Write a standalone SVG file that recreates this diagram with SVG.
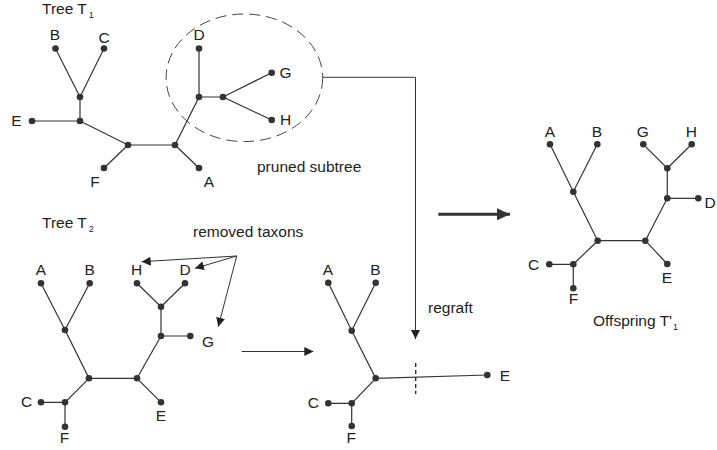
<svg xmlns="http://www.w3.org/2000/svg" width="717" height="450" viewBox="0 0 717 450">
<style>
text{font-family:"Liberation Sans",Arial,sans-serif;font-size:15.5px;fill:#222}
.lbl{text-anchor:middle}
.e{stroke:#333;stroke-width:1.2;fill:none}
.d{fill:#333}
.c{stroke:#333;stroke-width:1;fill:none}
.sub{font-size:9px}
</style>
<defs>
<marker id="ah" viewBox="0 0 10 10" refX="10" refY="5" markerWidth="9" markerHeight="9" markerUnits="userSpaceOnUse" orient="auto"><path d="M0,0 L10,5 L0,10 z" fill="#222"/></marker>
<marker id="big" viewBox="0 0 10 10" refX="10" refY="5" markerWidth="13" markerHeight="12" markerUnits="userSpaceOnUse" orient="auto" preserveAspectRatio="none"><path d="M0,0 L10,5 L0,10 z" fill="#333"/></marker>
</defs>
<rect width="717" height="450" fill="#fff"/>

<!-- titles and annotations -->
<text x="42" y="14">Tree T<tspan class="sub" dx="2" dy="4">1</tspan></text>
<text x="42" y="228">Tree T<tspan class="sub" dx="2" dy="4">2</tspan></text>
<text x="257" y="172">pruned subtree</text>
<text x="193" y="237">removed taxons</text>
<text x="428" y="313">regraft</text>
<text x="593" y="326">Offspring T'<tspan class="sub" dx="1" dy="4">1</tspan></text>

<g id="connectors">
<!-- Tree T1 edges -->
<path class="e" d="M55.5,48.5 L80,97 L104,48.5 M80,97 L80,121 L32,121 M80,121 L128,145 L175,145 M128,145 L104,168 M175,145 L199,168 M175,145 L199,97 L199,48.5 M199,97 L223,97 L271.7,72.7 M223,97 L271.7,120"/>
<!-- Tree T2 edges -->
<path class="e" d="M41,283.3 L65,330 L89.7,283.3 M65,330 L89,378.3 L137,378.3 M89,378.3 L65,402.3 L41,402.3 M65,402.3 L65,426.7 M137,378.3 L161,402.3 M137,378.3 L161,336 L190.3,336 M161,336 L161,306.7 L137,283.3 M161,306.7 L185,283.3"/>
<!-- middle tree edges -->
<path class="e" d="M328.3,282.7 L351.7,330.7 L375.7,282.7 M351.7,330.7 L375.7,378.3 L487.3,375 M375.7,378.3 L351.7,403.3 L328.3,403.3 M351.7,403.3 L351.7,426"/>
<path d="M415.7,363 L415.7,394" stroke="#222" stroke-width="1.3" stroke-dasharray="4,3"/>
<!-- offspring edges -->
<path class="e" d="M550,144.3 L573.3,191.7 L597.3,144.3 M573.3,191.7 L597.7,240.7 L645.3,240.7 M597.7,240.7 L573.3,264.3 L549.3,264.3 M573.3,264.3 L573.3,288.3 M645.3,240.7 L667.3,264 M645.3,240.7 L667.3,198.3 L698.3,198.3 M667.3,198.3 L667.3,168.3 L643.3,144.3 M667.3,168.3 L691.7,144.3"/>
<!-- pruned subtree ellipse and regraft connector -->
<ellipse cx="244.4" cy="77.8" rx="78.3" ry="63.8" fill="none" stroke="#444" stroke-width="1" stroke-dasharray="11,6"/>
<path class="c" d="M322.7,77.3 L415.5,77.3 L415.5,339" marker-end="url(#ah)"/>
<!-- removed taxons arrows -->
<path class="c" d="M236.7,256 L141.7,261.7" marker-end="url(#ah)"/>
<path class="c" d="M236.7,256 L195,268.3" marker-end="url(#ah)"/>
<path class="c" d="M236.7,256 L218.3,326.7" marker-end="url(#ah)"/>
<!-- T2 to middle arrow -->
<path class="c" d="M241.7,351.5 L313.3,351.5" marker-end="url(#ah)"/>
<!-- big arrow -->
<path d="M438.3,214.3 L510,214.3" stroke="#333" stroke-width="3" marker-end="url(#big)"/>
</g>

<!-- Tree T1 nodes -->
<g id="t1-B"><circle class="d" cx="55.5" cy="48.5" r="3.3"/><text class="lbl" x="55" y="40">B</text></g>
<g id="t1-C"><circle class="d" cx="104" cy="48.5" r="3.3"/><text class="lbl" x="104" y="43">C</text></g>
<g id="t1-BC"><circle class="d" cx="80" cy="97" r="3.3"/></g>
<g id="t1-Ej"><circle class="d" cx="80" cy="121" r="3.3"/></g>
<g id="t1-E"><circle class="d" cx="32" cy="121" r="3.3"/><text class="lbl" x="16.5" y="126">E</text></g>
<g id="t1-Fj"><circle class="d" cx="128" cy="145" r="3.3"/></g>
<g id="t1-Aj"><circle class="d" cx="175" cy="145" r="3.3"/></g>
<g id="t1-F"><circle class="d" cx="104" cy="168" r="3.3"/><text class="lbl" x="95" y="187">F</text></g>
<g id="t1-A"><circle class="d" cx="199" cy="168" r="3.3"/><text class="lbl" x="209" y="187">A</text></g>
<g id="t1-Dj"><circle class="d" cx="199" cy="97" r="3.3"/></g>
<g id="t1-D"><circle class="d" cx="199" cy="48.5" r="3.3"/><text class="lbl" x="199" y="40">D</text></g>
<g id="t1-GH"><circle class="d" cx="223" cy="97" r="3.3"/></g>
<g id="t1-G"><circle class="d" cx="271.7" cy="72.7" r="3.3"/><text class="lbl" x="285.5" y="78">G</text></g>
<g id="t1-H"><circle class="d" cx="271.7" cy="120" r="3.3"/><text class="lbl" x="285.5" y="125">H</text></g>

<!-- Tree T2 nodes -->
<g id="t2-A"><circle class="d" cx="41" cy="283.3" r="3.3"/><text class="lbl" x="41" y="275">A</text></g>
<g id="t2-B"><circle class="d" cx="89.7" cy="283.3" r="3.3"/><text class="lbl" x="89.7" y="275">B</text></g>
<g id="t2-AB"><circle class="d" cx="65" cy="330" r="3.3"/></g>
<g id="t2-L"><circle class="d" cx="89" cy="378.3" r="3.3"/></g>
<g id="t2-R"><circle class="d" cx="137" cy="378.3" r="3.3"/></g>
<g id="t2-CF"><circle class="d" cx="65" cy="402.3" r="3.3"/></g>
<g id="t2-C"><circle class="d" cx="41" cy="402.3" r="3.3"/><text class="lbl" x="26.7" y="407">C</text></g>
<g id="t2-F"><circle class="d" cx="65" cy="426.7" r="3.3"/><text class="lbl" x="64.5" y="443">F</text></g>
<g id="t2-E"><circle class="d" cx="161" cy="402.3" r="3.3"/><text class="lbl" x="161" y="421">E</text></g>
<g id="t2-Gj"><circle class="d" cx="161" cy="336" r="3.3"/></g>
<g id="t2-G"><circle class="d" cx="190.3" cy="336" r="3.3"/><text class="lbl" x="208" y="346.5">G</text></g>
<g id="t2-HD"><circle class="d" cx="161" cy="306.7" r="3.3"/></g>
<g id="t2-H"><circle class="d" cx="137" cy="283.3" r="3.3"/><text class="lbl" x="136.7" y="275">H</text></g>
<g id="t2-D"><circle class="d" cx="185" cy="283.3" r="3.3"/><text class="lbl" x="185" y="275">D</text></g>

<!-- middle tree nodes -->
<g id="m-A"><circle class="d" cx="328.3" cy="282.7" r="3.3"/><text class="lbl" x="328" y="275">A</text></g>
<g id="m-B"><circle class="d" cx="375.7" cy="282.7" r="3.3"/><text class="lbl" x="375.3" y="275">B</text></g>
<g id="m-AB"><circle class="d" cx="351.7" cy="330.7" r="3.3"/></g>
<g id="m-center"><circle class="d" cx="375.7" cy="378.3" r="3.3"/></g>
<g id="m-CF"><circle class="d" cx="351.7" cy="403.3" r="3.3"/></g>
<g id="m-C"><circle class="d" cx="328.3" cy="403.3" r="3.3"/><text class="lbl" x="313.3" y="407.5">C</text></g>
<g id="m-F"><circle class="d" cx="351.7" cy="426" r="3.3"/><text class="lbl" x="351.3" y="443">F</text></g>
<g id="m-E"><circle class="d" cx="487.3" cy="375" r="3.3"/><text class="lbl" x="505" y="381">E</text></g>

<!-- offspring nodes -->
<g id="o-A"><circle class="d" cx="550" cy="144.3" r="3.3"/><text class="lbl" x="550" y="137">A</text></g>
<g id="o-B"><circle class="d" cx="597.3" cy="144.3" r="3.3"/><text class="lbl" x="597" y="137">B</text></g>
<g id="o-AB"><circle class="d" cx="573.3" cy="191.7" r="3.3"/></g>
<g id="o-L"><circle class="d" cx="597.7" cy="240.7" r="3.3"/></g>
<g id="o-R"><circle class="d" cx="645.3" cy="240.7" r="3.3"/></g>
<g id="o-CF"><circle class="d" cx="573.3" cy="264.3" r="3.3"/></g>
<g id="o-C"><circle class="d" cx="549.3" cy="264.3" r="3.3"/><text class="lbl" x="533.5" y="270">C</text></g>
<g id="o-F"><circle class="d" cx="573.3" cy="288.3" r="3.3"/><text class="lbl" x="573.5" y="304">F</text></g>
<g id="o-E"><circle class="d" cx="667.3" cy="264" r="3.3"/><text class="lbl" x="667" y="283">E</text></g>
<g id="o-Dj"><circle class="d" cx="667.3" cy="198.3" r="3.3"/></g>
<g id="o-D"><circle class="d" cx="698.3" cy="198.3" r="3.3"/><text x="704.5" y="208">D</text></g>
<g id="o-GH"><circle class="d" cx="667.3" cy="168.3" r="3.3"/></g>
<g id="o-G"><circle class="d" cx="643.3" cy="144.3" r="3.3"/><text class="lbl" x="642.7" y="137">G</text></g>
<g id="o-H"><circle class="d" cx="691.7" cy="144.3" r="3.3"/><text class="lbl" x="691.3" y="137">H</text></g>
</svg>
